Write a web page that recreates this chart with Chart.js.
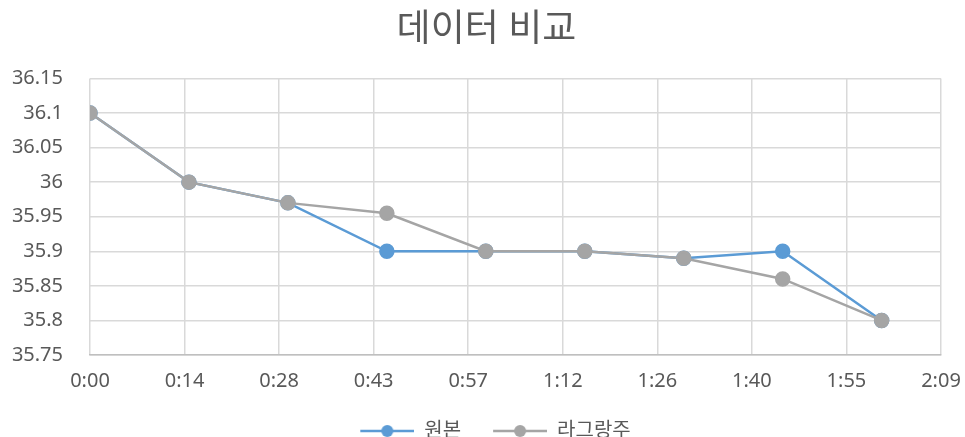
<!DOCTYPE html>
<html lang="ko">
<head>
<meta charset="utf-8">
<title>데이터 비교</title>
<script src="https://cdn.jsdelivr.net/npm/chart.js@4.4.1/dist/chart.umd.min.js"></script>
<style>
  html, body { margin: 0; padding: 0; background: #fff; }
  #wrap { width: 965px; height: 437px; position: relative; }
</style>
</head>
<body>
<div id="wrap"><canvas id="chart" width="965" height="437"></canvas></div>
<script>
// elapsed time of each sample, in seconds
const timeSeconds = [0, 15, 30, 45, 60, 75, 90, 105, 120];
const originalValues = [36.1, 36.0, 35.97, 35.9, 35.9, 35.9, 35.89, 35.9, 35.8];
const lagrangeValues = [36.1, 36.0, 35.97, 35.955, 35.9, 35.9, 35.89, 35.86, 35.8];
const seriesNames = ['원본', '라그랑주'];
const xTickLabels = ['0:00', '0:14', '0:28', '0:43', '0:57', '1:12', '1:26', '1:40', '1:55', '2:09'];
const xMaxSeconds = 129;

const FONT = "'Noto Sans', 'Noto Sans CJK KR', sans-serif";
const TEXT = '#595959';
const BLUE = '#5B9BD5';
const GRAY = '#A5A5A5';

// line-with-dot legend symbol; blank space on the left separates the items
const SWATCH_GAP = 18;
const SWATCH_LINE = 54;
function legendSwatch(color) {
  const c = document.createElement('canvas');
  c.width = SWATCH_GAP + SWATCH_LINE;
  c.height = 14;
  const g = c.getContext('2d');
  g.strokeStyle = color;
  g.lineWidth = 2.5;
  g.beginPath();
  g.moveTo(SWATCH_GAP, 7);
  g.lineTo(SWATCH_GAP + SWATCH_LINE, 7);
  g.stroke();
  g.fillStyle = color;
  g.beginPath();
  g.arc(SWATCH_GAP + SWATCH_LINE / 2, 7, 6, 0, Math.PI * 2);
  g.fill();
  return c;
}

const toPoints = values => values.map((v, i) => ({ x: timeSeconds[i], y: v }));

const ctx = document.getElementById('chart').getContext('2d');
new Chart(ctx, {
  type: 'line',
  data: {
    datasets: [
      {
        label: seriesNames[0],
        data: toPoints(originalValues),
        borderColor: BLUE,
        backgroundColor: BLUE,
        borderWidth: 2.5,
        pointRadius: 6.5,
        pointHoverRadius: 6.5,
        tension: 0,
        order: 2,
        legendSwatch: legendSwatch(BLUE),
      },
      {
        label: seriesNames[1],
        data: toPoints(lagrangeValues),
        borderColor: GRAY,
        backgroundColor: GRAY,
        borderWidth: 2.5,
        pointRadius: 6.5,
        pointHoverRadius: 6.5,
        tension: 0,
        order: 1,
        legendSwatch: legendSwatch(GRAY),
      },
    ],
  },
  options: {
    responsive: false,
    animation: false,
    // legend sits partly in the bottom margin so the plot keeps its height
    layout: { padding: { left: 8, right: 0, top: 8, bottom: -14 } },
    plugins: {
      title: {
        display: true,
        text: '데이터 비교',
        color: TEXT,
        font: { family: FONT, size: 37, weight: 'normal' },
        padding: { top: 0, bottom: 26 },
      },
      legend: {
        position: 'bottom',
        labels: {
          color: TEXT,
          font: { family: FONT, size: 20 },
          usePointStyle: true,
          pointStyleWidth: SWATCH_GAP + SWATCH_LINE,
          boxHeight: 14,
          padding: 14,
          generateLabels: chart => chart.data.datasets.map((ds, i) => ({
            text: ds.label,
            fontColor: TEXT,
            pointStyle: ds.legendSwatch,
            strokeStyle: ds.borderColor,
            fillStyle: ds.backgroundColor,
            lineWidth: 0,
            hidden: false,
            datasetIndex: i,
          })),
        },
      },
      tooltip: { enabled: false },
    },
    scales: {
      x: {
        type: 'linear',
        min: 0,
        max: xMaxSeconds,
        afterBuildTicks: scale => {
          scale.ticks = xTickLabels.map((_, i) => ({ value: i * xMaxSeconds / (xTickLabels.length - 1) }));
        },
        afterFit: scale => { scale.paddingRight = 24; },
        ticks: {
          callback: (v, i) => xTickLabels[i],
          color: TEXT,
          font: { family: FONT, size: 20 },
          padding: 14,
          maxRotation: 0,
        },
        grid: { color: '#D9D9D9', lineWidth: 1.5, drawTicks: false },
        border: { color: '#BFBFBF', width: 1.5 },
      },
      y: {
        min: 35.75,
        max: 36.15,
        afterFit: scale => { scale.width = 82; },
        ticks: {
          stepSize: 0.05,
          callback: v => String(parseFloat(v.toFixed(2))),
          color: TEXT,
          font: { family: FONT, size: 20 },
          padding: 27,
        },
        grid: { color: '#D9D9D9', lineWidth: 1.5, drawTicks: false },
        border: { display: false },
      },
    },
  },
});
</script>
</body>
</html>
